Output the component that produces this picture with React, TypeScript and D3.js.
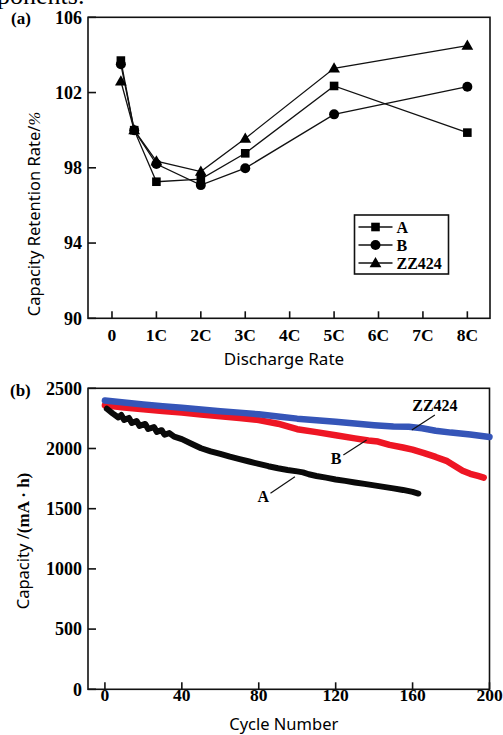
import React from "react";
import * as d3 from "d3";

const rates = [0.2, 0.5, 1, 2, 3, 5, 8];
const rateTicks = [0, 1, 2, 3, 4, 5, 6, 7, 8];
const rateTickLabels = ["0", "1C", "2C", "3C", "4C", "5C", "6C", "7C", "8C"];
const retA = [103.7, 100.0, 97.26, 97.4, 98.77, 102.35, 99.87];
const retB = [103.5, 100.0, 98.2, 97.08, 97.98, 100.84, 102.31];
const retZ = [102.6, 100.0, 98.35, 97.8, 99.56, 103.29, 104.5];
const retTicks = [90, 94, 98, 102, 106];

const cycleTicks = [0, 40, 80, 120, 160, 200];
const capTicks = [0, 500, 1000, 1500, 2000, 2500];

const capZZ: [number, number][] = [
  [0, 2398], [10, 2382], [20, 2366], [30, 2352], [40, 2338], [50, 2324], [60, 2310],
  [70, 2298], [80, 2284], [90, 2266], [100, 2248], [110, 2235], [120, 2222],
  [130, 2208], [140, 2194], [150, 2182], [158, 2180], [165, 2168], [172, 2148],
  [180, 2132], [190, 2116], [200, 2096],
];
const capB: [number, number][] = [
  [0, 2360], [10, 2340], [20, 2325], [30, 2311], [40, 2298], [50, 2283], [60, 2268],
  [70, 2253], [80, 2236], [90, 2206], [100, 2160], [110, 2136], [120, 2110],
  [130, 2084], [137, 2066], [142, 2058], [148, 2030], [155, 2008], [160, 1990],
  [166, 1962], [172, 1930], [178, 1895], [182, 1855], [186, 1815], [190, 1790],
  [194, 1772], [197, 1758],
];
const capA: [number, number][] = [
  [1, 2330], [4, 2292], [7, 2258], [8.5, 2278], [10, 2238], [12.5, 2254], [14, 2212],
  [16.5, 2228], [18, 2188], [21, 2204], [22.5, 2162], [25.5, 2178], [27, 2138],
  [29.5, 2152], [31, 2114], [33.5, 2128], [36, 2098], [40, 2078], [45, 2040],
  [50, 2002], [55, 1976], [60, 1955], [65, 1932], [70, 1912], [75, 1892], [80, 1872],
  [85, 1853], [90, 1836], [95, 1822], [100, 1810], [103, 1802], [106, 1786],
  [110, 1772], [115, 1758], [120, 1743], [125, 1731], [130, 1718], [135, 1706],
  [140, 1694], [145, 1681], [150, 1669], [155, 1656], [160, 1640], [163, 1626],
];

const labelNames = ["A", "B", "ZZ424"];

const serif = "'Liberation Serif', 'Times New Roman', serif";
const sans = "'Noto Sans', 'Open Sans', sans-serif";

function Marker({ kind, x, y }: { kind: string; x: number; y: number }) {
  if (kind === "square") return <rect x={x - 4.3} y={y - 4.3} width={8.6} height={8.6} fill="#000" />;
  if (kind === "circle") return <circle cx={x} cy={y} r={5} fill="#000" />;
  const s = d3.symbol().type(d3.symbolTriangle).size(60)()!;
  return <path d={s} transform={`translate(${x},${y + 0.8})`} fill="#000" />;
}

export default function App() {
  // Panel (a)
  const ax0 = 88, ax1 = 490, ay0 = 17.3, ay1 = 318.3;
  const xa = d3.scaleLinear().domain([-0.54, 8.51]).range([ax0, ax1]);
  const ya = d3.scaleLinear().domain([90, 106]).range([ay1, ay0]);
  const lineA = d3.line<number>().x((_, i) => xa(rates[i])).y((d) => ya(d));
  const seriesA = [
    { vals: retA, kind: "square" },
    { vals: retB, kind: "circle" },
    { vals: retZ, kind: "triangle" },
  ];

  // Panel (b)
  const bx0 = 88, bx1 = 489.5, by0 = 388.3, by1 = 689.3;
  const xb = d3.scaleLinear().domain([-8.8, 200]).range([bx0, bx1]);
  const yb = d3.scaleLinear().domain([0, 2500]).range([by1, by0]);
  const lineB = d3.line<[number, number]>().x((d) => xb(d[0])).y((d) => yb(d[1]));

  const legX = 354.5, legY = 215, legW = 94, legH = 59;

  const annotations = [
    { name: "A", tx: 82.4, ty: 1606, lx1: 86.1, ly1: 1628, lx2: 98.8, ly2: 1766 },
    { name: "B", tx: 120.2, ty: 1921, lx1: 124, ly1: 1946, lx2: 136.1, ly2: 2071 },
    { name: "ZZ424", tx: 171.6, ty: 2361, lx1: 171.6, ly1: 2278, lx2: 159.6, ly2: 2154 },
  ];

  return (
    <svg width={503} height={735} style={{ position: "absolute", left: 0, top: 0, background: "#fff" }}>
      <text x={-3} y={4} fontFamily={serif} fontSize={26}>ponents.</text>

      {/* ---------- Panel (a) ---------- */}
      <text x={11} y={24} fontFamily={serif} fontWeight="bold" fontSize={17}>(a)</text>
      <rect x={ax0} y={ay0} width={ax1 - ax0} height={ay1 - ay0} fill="none" stroke="#111" strokeWidth={1.6} />
      {retTicks.map((t) => (
        <g key={t}>
          <line x1={ax0} x2={ax0 + 8} y1={ya(t)} y2={ya(t)} stroke="#111" strokeWidth={1.6} />
          <text x={82} y={ya(t)} dy="0.35em" textAnchor="end" fontFamily={serif} fontWeight="bold" fontSize={18}>{t}</text>
        </g>
      ))}
      {rateTicks.map((t, i) => (
        <g key={t}>
          <line x1={xa(t)} x2={xa(t)} y1={ay1} y2={ay1 - 7} stroke="#111" strokeWidth={1.6} />
          <text x={xa(t)} y={341} textAnchor="middle" fontFamily={serif} fontWeight="bold" fontSize={17.5}>{rateTickLabels[i]}</text>
        </g>
      ))}
      <text x={(ax0 + ax1) / 2 - 5} y={365} textAnchor="middle" fontFamily={sans} fontSize={17}>Discharge Rate</text>
      <text transform={`translate(40,214) rotate(-90)`} textAnchor="middle" fontFamily={sans} fontSize={16.5}>
        Capacity Retention Rate/<tspan fontFamily={serif} fontStyle="italic">%</tspan>
      </text>
      {seriesA.map((s, k) => (
        <g key={k}>
          <path d={lineA(s.vals)!} fill="none" stroke="#111" strokeWidth={1.3} />
          {s.vals.map((v, i) => <Marker key={i} kind={s.kind} x={xa(rates[i])} y={ya(v)} />)}
        </g>
      ))}
      <rect x={legX} y={legY} width={legW} height={legH} fill="#fff" stroke="#111" strokeWidth={1.6} />
      {seriesA.map((s, k) => {
        const yy = legY + 12 + k * 18;
        return (
          <g key={k}>
            <line x1={legX + 4} x2={legX + 38} y1={yy} y2={yy} stroke="#111" strokeWidth={1.3} />
            <Marker kind={s.kind} x={legX + 21} y={yy} />
            <text x={legX + 42} y={yy} dy="0.35em" fontFamily={serif} fontWeight="bold" fontSize={16}>{labelNames[k]}</text>
          </g>
        );
      })}

      {/* ---------- Panel (b) ---------- */}
      <text x={10} y={396} fontFamily={serif} fontWeight="bold" fontSize={17}>(b)</text>
      <rect x={bx0} y={by0} width={bx1 - bx0} height={by1 - by0} fill="none" stroke="#111" strokeWidth={1.6} />
      {capTicks.map((t) => (
        <g key={t}>
          <line x1={bx0} x2={bx0 + 8} y1={yb(t)} y2={yb(t)} stroke="#111" strokeWidth={1.6} />
          <text x={82} y={yb(t)} dy="0.35em" textAnchor="end" fontFamily={serif} fontWeight="bold" fontSize={18}>{t}</text>
        </g>
      ))}
      {cycleTicks.map((t) => (
        <g key={t}>
          <line x1={xb(t)} x2={xb(t)} y1={by1} y2={by1 - 7} stroke="#111" strokeWidth={1.6} />
          <text x={xb(t)} y={701} textAnchor="middle" fontFamily={serif} fontWeight="bold" fontSize={17.5}>{t}</text>
        </g>
      ))}
      <text x={(bx0 + bx1) / 2 - 5} y={730} textAnchor="middle" fontFamily={sans} fontSize={16.5}>Cycle Number</text>
      <text transform={`translate(29,541) rotate(-90)`} textAnchor="middle" fontFamily={sans} fontSize={16.5}>
        Capacity /<tspan fontFamily={serif} fontWeight="bold" fontSize={17}>(mA · h)</tspan>
      </text>

      <path d={lineB(capB)!} fill="none" stroke="#ee1624" strokeWidth={6.5} strokeLinejoin="round" strokeLinecap="round" />
      <path d={lineB(capZZ)!} fill="none" stroke="#3555b8" strokeWidth={6.5} strokeLinejoin="round" strokeLinecap="round" />
      <path d={lineB(capA)!} fill="none" stroke="#0a0a0a" strokeWidth={6} strokeLinejoin="round" strokeLinecap="round" />

      {annotations.map((a) => (
        <g key={a.name}>
          <line x1={xb(a.lx1)} y1={yb(a.ly1)} x2={xb(a.lx2)} y2={yb(a.ly2)} stroke="#111" strokeWidth={1.2} />
          <text x={xb(a.tx)} y={yb(a.ty)} dy="0.35em" textAnchor="middle" fontFamily={serif} fontWeight="bold" fontSize={16}>{a.name}</text>
        </g>
      ))}
    </svg>
  );
}
